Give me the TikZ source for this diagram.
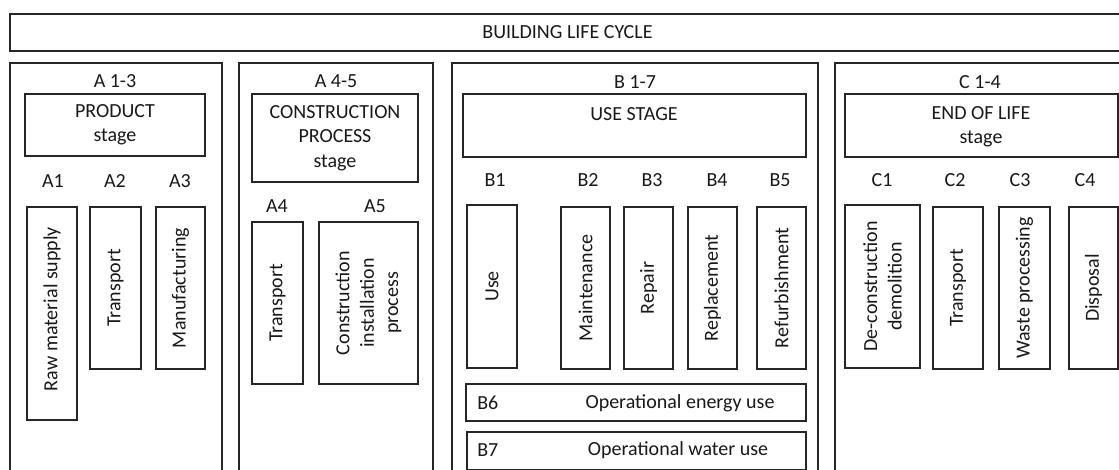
\documentclass[tikz,border=0pt]{standalone}
\usepackage{fontspec}
\setmainfont{Carlito}
\usetikzlibrary{fit}
% rectangle spanning two corner points, given in pixel units
\newcommand\stagebox[5]{\node[box, fit={(#2,#3) (#4,#5)}] (#1) {};}
\begin{document}
\begin{tikzpicture}[x=0.75pt, y=-0.75pt,
  box/.style={draw=black!85, line width=0.8pt, inner sep=0pt, outer sep=0pt},
  txt/.style={font=\fontsize{15}{18.3}\selectfont, inner sep=0pt, align=center, text=black!90},
  vtxt/.style={txt, rotate=90}]
\useasboundingbox (0,0) rectangle (1119,469);
\fill[white] (0,0) rectangle (1119,469);
\clip (0,0) rectangle (1119,469);

% overall frame
\stagebox{life}{10}{14}{1125}{51}
\node[txt] (lifet) at (life.center) {BUILDING LIFE CYCLE};

% ---- product stage A1-3
\stagebox{pA}{10}{63}{222}{480}
\node[txt] (pAt) at (115,81) {A 1-3};
\stagebox{prod}{25}{94}{205}{156}
\node[txt] (prodt) at (prod.center) {PRODUCT\\stage};
\node[txt] (a1) at (53,181) {A1};
\node[txt] (a2) at (115,181) {A2};
\node[txt] (a3) at (180,181) {A3};
\stagebox{raw}{27}{207}{77}{420}
\node[vtxt] (rawt) at (52,309) {Raw material supply};
\stagebox{tra}{90}{207}{141}{369}
\node[vtxt] (trat) at (tra.center) {Transport};
\stagebox{man}{156}{207}{205}{369}
\node[vtxt] (mant) at (man.center) {Manufacturing};

% ---- construction stage A4-5
\stagebox{pC}{239}{63}{433}{480}
\node[txt] (pCt) at (336,81) {A 4-5};
\stagebox{cons}{252}{94}{418}{182}
\node[txt] (const) at (cons.center) {CONSTRUCTION\\PROCESS\\stage};
\node[txt] (a4) at (277,206) {A4};
\node[txt] (a5) at (375,206) {A5};
\stagebox{trb}{252}{222}{303}{384}
\node[vtxt] (trbt) at (trb.center) {Transport};
\stagebox{ins}{319}{222}{418}{384}
\node[vtxt] (inst) at (ins.center) {Construction\\installation\\process};

% ---- use stage B1-7
\stagebox{pB}{452}{63}{818}{480}
\node[txt] (pBt) at (635,82) {B 1-7};
\stagebox{use}{463}{94}{806}{157}
\node[txt] (uset) at (634,114) {USE STAGE};
\node[txt] (b1) at (495,180) {B1};
\node[txt] (b2) at (588,180) {B2};
\node[txt] (b3) at (652,180) {B3};
\node[txt] (b4) at (717,180) {B4};
\node[txt] (b5) at (780,180) {B5};
\stagebox{bu}{467}{205}{517}{368}
\node[vtxt] (but) at (bu.center) {Use};
\stagebox{bm}{561}{207}{610}{369}
\node[vtxt] (bmt) at (bm.center) {Maintenance};
\stagebox{br}{624}{207}{673}{369}
\node[vtxt] (brt) at (br.center) {Repair};
\stagebox{bp}{688}{207}{737}{369}
\node[vtxt] (bpt) at (bp.center) {Replacement};
\stagebox{bf}{757}{207}{806}{369}
\node[vtxt] (bft) at (bf.center) {Refurbishment};
\stagebox{b6box}{466}{384}{806}{421}
\node[txt, anchor=west] (b6) at (477,403) {B6};
\node[txt] (b6t) at (680,403) {Operational energy use};
\stagebox{b7box}{467}{432}{806}{470}
\node[txt, anchor=west] (b7) at (477,450) {B7};
\node[txt] (b7t) at (678,450) {Operational water use};

% ---- end of life stage C1-4
\stagebox{pD}{835}{63}{1126}{480}
\node[txt] (pDt) at (980,82) {C 1-4};
\stagebox{eol}{845}{94}{1118}{157}
\node[txt] (eolt) at (981,127) {END OF LIFE\\stage};
\node[txt] (c1) at (882,180) {C1};
\node[txt] (c2) at (955,180) {C2};
\node[txt] (c3) at (1020,180) {C3};
\node[txt] (c4) at (1085,180) {C4};
\stagebox{cd}{845}{205}{920}{368}
\node[vtxt] (cdt) at (cd.center) {De-construction\\demolition};
\stagebox{ct}{933}{207}{983}{369}
\node[vtxt] (ctt) at (ct.center) {Transport};
\stagebox{cw}{999}{207}{1050}{369}
\node[vtxt] (cwt) at (cw.center) {Waste processing};
\stagebox{cx}{1069}{207}{1118}{369}
\node[vtxt] (cxt) at (cx.center) {Disposal};
\end{tikzpicture}
\end{document}
